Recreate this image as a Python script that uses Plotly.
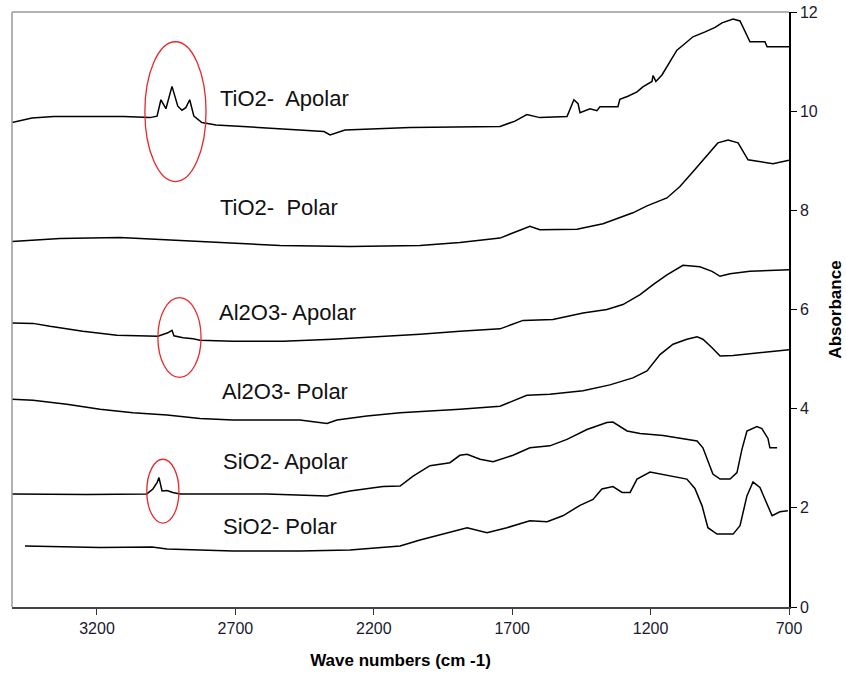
import plotly.graph_objects as go

# ---- data (wave numbers in cm-1, absorbance) ----
tio2_apolar_wn = [3507,3435,3356,3103,3009,2983,2969,2951,2929,2908,2893,2879,2865,2850,2821,2770,2673,2535,2380,2358,
                  2304,2069,1874,1744,1690,1647,1600,1502,1477,1462,1455,1419,1394,1383,1318,1311,1282,1249,1228,1195,
                  1191,1181,1159,1141,1123,1105,1083,1047,1003,967,942,902,877,859,841,787,779,700]
tio2_apolar_ab = [9.77,9.86,9.89,9.89,9.87,9.90,10.23,10.05,10.50,10.10,10.02,10.07,10.23,9.90,9.77,9.72,9.69,9.64,9.59,9.52,
                  9.62,9.67,9.69,9.69,9.80,9.93,9.87,9.89,10.23,10.15,9.97,10.05,10.01,10.09,10.09,10.24,10.30,10.39,10.49,10.60,
                  10.72,10.60,10.73,10.90,11.07,11.23,11.33,11.50,11.60,11.69,11.78,11.86,11.82,11.60,11.40,11.40,11.30,11.30]

tio2_polar_wn = [3507,3334,3117,2828,2539,2286,2033,1889,1744,1636,1600,1466,1372,1264,1213,1141,1094,1047,996,957,920,884,848,794,758,700]
tio2_polar_ab = [7.37,7.43,7.45,7.37,7.29,7.27,7.29,7.35,7.44,7.68,7.61,7.62,7.73,7.95,8.09,8.25,8.48,8.78,9.12,9.36,9.42,9.36,9.02,8.97,8.94,9.01]

al2o3_apolar_wn = [3507,3431,3370,3251,3128,2980,2944,2929,2922,2889,2853,2828,2709,2528,2348,2167,2033,1889,1744,1661,
                   1553,1444,1358,1300,1238,1191,1141,1083,1022,978,949,913,841,700]
al2o3_apolar_ab = [5.73,5.72,5.66,5.56,5.48,5.46,5.53,5.58,5.47,5.43,5.41,5.38,5.36,5.36,5.40,5.45,5.50,5.56,5.61,5.78,
                   5.80,5.93,6.00,6.10,6.30,6.50,6.70,6.89,6.86,6.77,6.67,6.72,6.77,6.80]

al2o3_polar_wn = [3507,3431,3309,3189,3070,2947,2828,2709,2467,2369,2333,2225,2105,2033,1889,1744,1647,1564,1444,1347,
                  1264,1213,1166,1119,1069,1032,1011,978,949,902,841,758,700]
al2o3_polar_ab = [4.19,4.17,4.09,3.99,3.92,3.87,3.80,3.77,3.77,3.70,3.77,3.85,3.92,3.94,3.99,4.05,4.27,4.29,4.36,4.48,
                  4.62,4.76,5.09,5.30,5.40,5.45,5.40,5.23,5.06,5.07,5.11,5.16,5.19]

sio2_apolar_wn = [3507,3236,3020,2998,2983,2976,2965,2947,2926,2900,2586,2369,2322,2286,2167,2105,2058,1997,1925,1889,
                  1863,1816,1769,1697,1636,1564,1502,1430,1358,1336,1285,1238,1155,1094,1032,1011,985,975,949,913,
                  888,870,852,816,798,776,769,743]
sio2_apolar_ab = [2.28,2.27,2.28,2.38,2.51,2.61,2.34,2.35,2.31,2.28,2.28,2.24,2.30,2.34,2.43,2.44,2.64,2.85,2.91,3.06,
                  3.08,2.98,2.93,3.06,3.21,3.25,3.38,3.58,3.72,3.73,3.55,3.50,3.46,3.40,3.35,3.21,2.85,2.68,2.58,2.58,
                  2.71,3.18,3.55,3.64,3.60,3.40,3.21,3.21]

sio2_polar_wn = [3460,3189,3001,2947,2709,2467,2286,2167,2105,2033,1936,1863,1791,1719,1636,1574,1517,1455,1408,1376,
                 1336,1303,1274,1249,1202,1130,1069,1040,1014,993,960,902,877,852,830,805,776,761,733,704]
sio2_polar_ab = [1.23,1.20,1.21,1.17,1.13,1.13,1.15,1.20,1.23,1.35,1.50,1.60,1.50,1.60,1.74,1.72,1.84,2.05,2.17,2.38,
                 2.43,2.31,2.31,2.58,2.72,2.64,2.58,2.39,2.04,1.60,1.47,1.47,1.64,2.24,2.52,2.41,2.04,1.84,1.92,1.94]

series = [
    (tio2_apolar_wn, tio2_apolar_ab),
    (tio2_polar_wn, tio2_polar_ab),
    (al2o3_apolar_wn, al2o3_apolar_ab),
    (al2o3_polar_wn, al2o3_polar_ab),
    (sio2_apolar_wn, sio2_apolar_ab),
    (sio2_polar_wn, sio2_polar_ab),
]

label_texts = ["TiO2-\u00a0 Apolar", "TiO2-\u00a0 Polar", "Al2O3- Apolar", "Al2O3- Polar", "SiO2- Apolar", "SiO2- Polar"]
label_wn = [2763, 2763, 2766, 2756, 2753, 2753]
label_ab = [10.25, 8.05, 5.94, 4.35, 2.94, 1.63]

# highlighted regions (wn range, absorbance range)
ellipses = [
    (3027, 2806, 8.58, 11.40),
    (2980, 2824, 4.63, 6.24),
    (3020, 2904, 1.69, 2.98),
]

x_ticks = [3200, 2700, 2200, 1700, 1200, 700]
y_ticks = [0, 2, 4, 6, 8, 10, 12]

fig = go.Figure()
for wn, ab in series:
    fig.add_trace(go.Scatter(x=wn, y=ab, mode="lines",
                             line=dict(color="black", width=1.5), showlegend=False))

for t, xw, ya in zip(label_texts, label_wn, label_ab):
    fig.add_annotation(x=xw, y=ya, text=t, showarrow=False, xanchor="left", yanchor="middle",
                       font=dict(family="Liberation Sans, Arial", size=22, color="#111111"))

for x0, x1, y0, y1 in ellipses:
    fig.add_shape(type="circle", xref="x", yref="y", x0=x0, x1=x1, y0=y0, y1=y1,
                  line=dict(color="#e8282b", width=1.3))

# gray frame on left and top
fig.add_shape(type="line", xref="paper", yref="paper", x0=0, x1=0, y0=0, y1=1,
              line=dict(color="#9a9a9a", width=1.5))
fig.add_shape(type="line", xref="paper", yref="paper", x0=0, x1=1, y0=1, y1=1,
              line=dict(color="#9a9a9a", width=1.5))

fig.update_layout(
    width=846, height=675,
    margin=dict(l=12, r=57, t=12, b=68, autoexpand=False),
    paper_bgcolor="white", plot_bgcolor="white",
    font=dict(family="Liberation Sans, Arial", color="black"),
    xaxis=dict(range=[3507, 700], tickvals=x_ticks, ticks="outside", ticklen=6,
               tickcolor="#333333", showline=True, linecolor="#444444", linewidth=1.5,
               showgrid=False, zeroline=False, automargin=False,
               tickfont=dict(size=16, color="#1a1a2e"),
               title=dict(text="<b>Wave numbers (cm -1)</b>", font=dict(size=17), standoff=18)),
    yaxis=dict(range=[0, 12], tickvals=y_ticks, side="right", ticks="outside", ticklen=6,
               tickcolor="black", showline=True, linecolor="black", linewidth=1.5,
               showgrid=False, zeroline=False, automargin=False,
               tickfont=dict(size=16, color="#1a1a2e"),
               title=dict(text="<b>Absorbance</b>", font=dict(size=17), standoff=12)),
)

fig.write_html("out.html", config={"displayModeBar": False},
               post_script="document.body.style.margin='0';")
